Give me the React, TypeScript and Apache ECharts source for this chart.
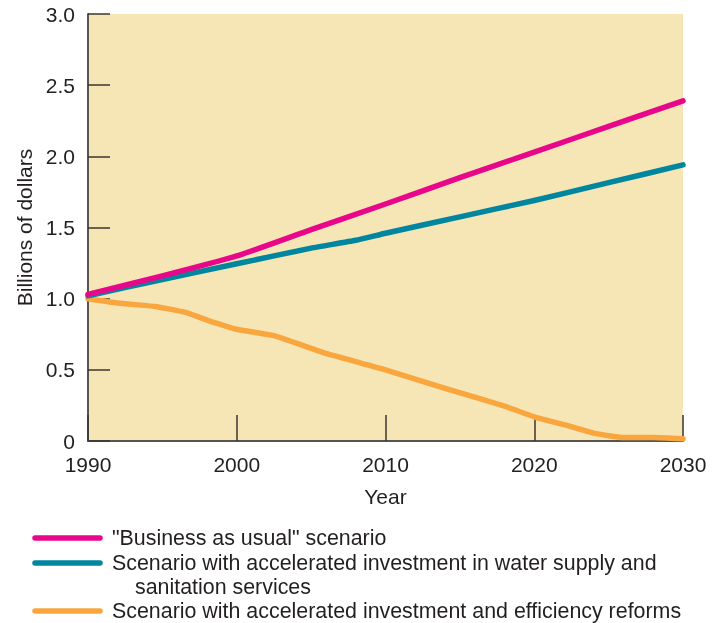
import React, { useEffect, useRef } from "react";
import * as echarts from "echarts";

// Projected values (billions of dollars), [year, value]
const businessAsUsual: [number, number][] = [
  [1990, 1.03], [1995, 1.16], [2000, 1.3], [2005, 1.485], [2010, 1.665],
  [2015, 1.85], [2020, 2.03], [2025, 2.21], [2030, 2.39],
];
const acceleratedInvestment: [number, number][] = [
  [1990, 1.02], [1995, 1.135], [2000, 1.245], [2005, 1.355], [2008, 1.41],
  [2010, 1.46], [2015, 1.575], [2020, 1.69], [2025, 1.815], [2030, 1.94],
];
const investmentAndReforms: [number, number][] = [
  [1990, 1.0], [1992, 0.97], [1994.5, 0.945], [1996.5, 0.905], [1998, 0.85],
  [2000, 0.785], [2002.5, 0.74], [2006, 0.615], [2010, 0.5], [2014, 0.37],
  [2018, 0.245], [2020, 0.17], [2022, 0.115], [2024, 0.055], [2026, 0.025],
  [2028, 0.025], [2030, 0.015],
];

const seriesNames = [
  '"Business as usual" scenario',
  "Scenario with accelerated investment in water supply and",
  "Scenario with accelerated investment and efficiency reforms",
];
const wrappedLine = "sanitation services";
const seriesColors = ["#e8078b", "#00869e", "#f9a63f"];

const xAxisTitle = "Year";
const yAxisTitle = "Billions of dollars";
const xRange = { min: 1990, max: 2030, interval: 10 };
const yRange = { min: 0, max: 3, interval: 0.5 };

const FONT = '"Liberation Sans", Arial, Helvetica, sans-serif';
const TEXT = "#231f20";
const FS = 21;
const LEGEND_FS = 21.4;

export default function App() {
  const ref = useRef<HTMLDivElement>(null);

  useEffect(() => {
    if (!ref.current) return;
    const chart = echarts.init(ref.current, undefined, { renderer: "svg" });

    const seriesData = [businessAsUsual, acceleratedInvestment, investmentAndReforms];

    // Hand-placed legend: colour swatch lines with labels, second entry wraps
    const legendRows = [538, 563, 611];
    const graphic: any[] = [];
    legendRows.forEach((y, i) => {
      graphic.push({
        type: "line",
        shape: { x1: 35, y1: y, x2: 100, y2: y },
        style: { stroke: seriesColors[i], lineWidth: 5.5, lineCap: "round" },
      });
      graphic.push({
        type: "text",
        x: 112,
        y,
        style: {
          text: seriesNames[i],
          fontSize: LEGEND_FS,
          fontFamily: FONT,
          fill: TEXT,
          verticalAlign: "middle",
        },
      });
    });
    graphic.push({
      type: "text",
      x: 135,
      y: 587,
      style: {
        text: wrappedLine,
        fontSize: LEGEND_FS,
        fontFamily: FONT,
        fill: TEXT,
        verticalAlign: "middle",
      },
    });

    chart.setOption({
      animation: false,
      grid: {
        left: 88,
        right: 31,
        top: 14,
        bottom: 182,
        show: true,
        backgroundColor: "#f6e6b6",
        borderWidth: 0,
      },
      textStyle: { fontFamily: FONT },
      xAxis: {
        type: "value",
        ...xRange,
        name: xAxisTitle,
        nameLocation: "middle",
        nameGap: 45,
        nameTextStyle: { fontSize: FS, color: TEXT, fontFamily: FONT },
        axisLine: { show: true, lineStyle: { color: "#5a5450", width: 2 } },
        axisTick: { inside: true, length: 26, lineStyle: { color: "#3a3430", width: 1.5 } },
        axisLabel: {
          fontSize: FS,
          color: TEXT,
          margin: 13,
          fontFamily: FONT,
          formatter: (v: number) => String(v),
        },
        splitLine: { show: false },
      },
      yAxis: {
        type: "value",
        ...yRange,
        name: yAxisTitle,
        nameLocation: "middle",
        nameGap: 53,
        nameTextStyle: { fontSize: FS, color: TEXT, fontFamily: FONT },
        axisLine: { show: true, lineStyle: { color: "#5a5450", width: 2 } },
        axisTick: { inside: true, length: 22, lineStyle: { color: "#3a3430", width: 1.5 } },
        axisLabel: {
          fontSize: FS,
          color: TEXT,
          margin: 13,
          fontFamily: FONT,
          formatter: (v: number) => (v === 0 ? "0" : v.toFixed(1)),
        },
        splitLine: { show: false },
      },
      series: seriesData.map((data, i) => ({
        type: "line",
        name: seriesNames[i],
        data,
        smooth: 0.15,
        showSymbol: false,
        symbol: "none",
        lineStyle: { color: seriesColors[i], width: 5.5, cap: "round", join: "round" },
        z: 3 - i,
      })),
      graphic,
    });

    return () => chart.dispose();
  }, []);

  return (
    <div
      ref={ref}
      style={{ position: "fixed", left: 0, top: 0, width: 714, height: 623 }}
    />
  );
}
